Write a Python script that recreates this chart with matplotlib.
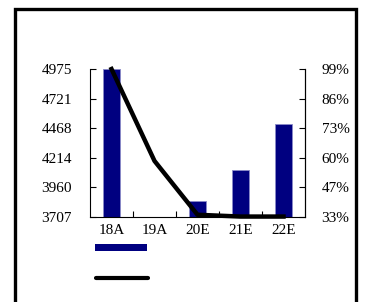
import numpy as np
import matplotlib.pyplot as plt
from matplotlib.patches import Rectangle
from matplotlib.lines import Line2D

# data
categories = ['18A', '19A', '20E', '21E', '22E']
bar_values = [4975, 3707, 3845, 4110, 4505]
line_values = [99.0, 58.0, 34.0, 33.2, 33.2]

left_ticks = [3707, 3960, 4214, 4468, 4721, 4975]
right_ticks = [33, 47, 60, 73, 86, 99]

plt.rcParams['font.family'] = ['Liberation Serif', 'DejaVu Serif']

fig = plt.figure(figsize=(3.65, 3.02), dpi=100)
ax = fig.add_axes([90 / 365, 85 / 302, 215 / 365, 148 / 302])
x = np.arange(len(categories))

ax.bar(x, bar_values, width=0.39, color='#000080', edgecolor='#8a8ac8', linewidth=0.6)
ax.set_ylim(left_ticks[0], left_ticks[-1])
ax.set_xlim(-0.5, len(categories) - 0.5)
ax.set_yticks(np.linspace(left_ticks[0], left_ticks[-1], len(left_ticks)))
ax.set_yticklabels([str(v) for v in left_ticks])
ax.set_xticks(x)
ax.set_xticklabels(categories)
ax.set_xticks(x[:-1] + 0.5, minor=True)
ax.tick_params(axis='x', which='major', length=0, pad=5, labelsize=11)
ax.tick_params(axis='x', which='minor', direction='in', length=4, width=0.8)
ax.tick_params(axis='y', direction='in', length=4, width=0.8, pad=13, labelsize=11)
ax.spines['top'].set_visible(False)
for s in ['left', 'bottom', 'right']:
    ax.spines[s].set_linewidth(0.8)

ax2 = ax.twinx()
ax2.plot(x, line_values, color='black', linewidth=3.2, clip_on=False, zorder=5)
ax2.set_ylim(right_ticks[0], right_ticks[-1])
ax2.set_yticks(np.linspace(right_ticks[0], right_ticks[-1], len(right_ticks)))
ax2.set_yticklabels([f'{v}%' for v in right_ticks])
ax2.tick_params(axis='y', direction='in', length=4, width=0.8, pad=12, labelsize=11)
ax2.spines['top'].set_visible(False)
ax2.spines['right'].set_linewidth(0.8)
ax2.spines['left'].set_visible(False)
ax2.spines['bottom'].set_visible(False)

# legend keys without text
fig.add_artist(Rectangle((95 / 365, 1 - 251 / 302), 52 / 365, 7 / 302,
                         transform=fig.transFigure, facecolor='#000080', edgecolor='none'))
fig.add_artist(Line2D([96 / 365, 148 / 365], [1 - 278 / 302, 1 - 278 / 302],
                      transform=fig.transFigure, color='black', linewidth=3,
                      solid_capstyle='round'))

# outer frame
fig.add_artist(Rectangle((14.5 / 365, -0.1), 341.5 / 365, 1.1 - 9.5 / 302,
                         transform=fig.transFigure, fill=False, edgecolor='black',
                         linewidth=2.4, clip_on=False))

fig.savefig('out.png', dpi=100)
